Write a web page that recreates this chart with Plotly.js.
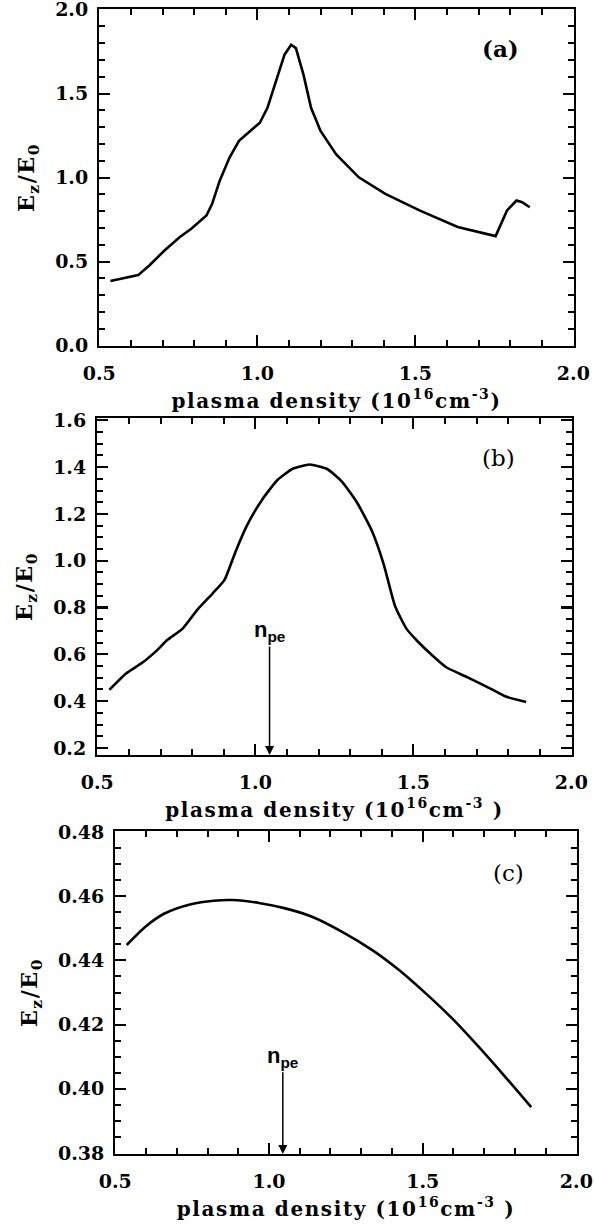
<!DOCTYPE html>
<html><head><meta charset="utf-8">
<script src="https://cdn.plot.ly/plotly-3.0.1.min.js"></script>
<style>
html,body{margin:0;padding:0;background:#fff;}
#chart{width:595px;height:1227px;}
text.xtitle,text.x2title,text.x3title,text.ytitle,text.y2title,text.y3title{letter-spacing:1.6px;}
</style>
</head><body><div id="chart"></div>
<script>
// Panel (a)
const densA = [0.535,0.623,0.659,0.707,0.755,0.791,0.839,0.857,0.881,0.912,0.942,0.972,1.008,1.032,1.056,1.086,1.107,1.122,1.146,1.170,1.200,1.249,1.321,1.405,1.513,1.634,1.754,1.790,1.820,1.838,1.862];
const fieldA = [0.385,0.420,0.479,0.568,0.647,0.696,0.775,0.844,0.982,1.120,1.219,1.268,1.327,1.416,1.554,1.732,1.791,1.771,1.613,1.416,1.278,1.140,1.002,0.903,0.805,0.706,0.652,0.805,0.864,0.854,0.824];
// Panel (b)
const densB = [0.538,0.590,0.644,0.686,0.722,0.770,0.818,0.866,0.902,0.938,0.974,1.022,1.070,1.118,1.172,1.226,1.274,1.322,1.370,1.406,1.442,1.478,1.514,1.562,1.604,1.670,1.742,1.790,1.857];
const fieldB = [0.448,0.517,0.566,0.614,0.662,0.710,0.793,0.862,0.917,1.041,1.152,1.262,1.345,1.393,1.411,1.393,1.338,1.248,1.124,0.986,0.807,0.710,0.655,0.593,0.545,0.503,0.455,0.421,0.396];
// Panel (c)
const densC = [0.537,0.598,0.660,0.746,0.820,0.881,0.967,1.053,1.140,1.238,1.336,1.423,1.509,1.595,1.681,1.767,1.853];
const fieldC = [0.4448,0.4505,0.4546,0.4575,0.4586,0.4588,0.4579,0.4562,0.4536,0.4489,0.4432,0.4370,0.4298,0.4220,0.4132,0.4039,0.3943];
// Marker n_pe
const npe = 1.045;
const panelLabels = ['(a)','(b)','(c)'];
const xTicks = [0.5,1.0,1.5,2.0];

const W = 595, H = 1227;
const serif = 'DejaVu Serif';
const tickFont = {family: serif, size: 19, weight: 'bold', color: '#000'};
const titleFont = {family: serif, size: 20, weight: 'bold', color: '#000'};
const yTitleFont = {family: serif, size: 22, weight: 'bold', color: '#000'};

function px2domX(a, b){ return [a / W, b / W]; }
function px2domY(top, bot){ return [(H - bot) / H, (H - top) / H]; }

function xAxis(dom, anchor, title){
  return {
    domain: dom, anchor: anchor, range: [0.499, 2.002],
    tickmode: 'array', tickvals: xTicks, ticktext: xTicks.map(v => v.toFixed(1)),
    ticks: 'inside', ticklen: 11, tickwidth: 2.2, tickcolor: '#000',
    minor: {dtick: 0.1, tick0: 0.5, ticks: 'inside', ticklen: 6, tickwidth: 2, tickcolor: '#000', showgrid: false},
    showline: true, linewidth: 2, linecolor: '#000', mirror: 'ticks',
    showgrid: false, zeroline: false, tickfont: tickFont, ticklabelstandoff: 9, ticklabeloverflow: 'allow',
    title: {text: title, font: titleFont, standoff: 11}, automargin: false, fixedrange: true
  };
}
function yAxis(dom, anchor, range, dtick, tick0, minorD, fmt){
  return {
    domain: dom, anchor: anchor, range: range,
    tickmode: 'linear', dtick: dtick, tick0: tick0, tickformat: fmt,
    ticks: 'inside', ticklen: 11, tickwidth: 2.2, tickcolor: '#000',
    minor: {dtick: minorD, tick0: tick0, ticks: 'inside', ticklen: 6, tickwidth: 2, tickcolor: '#000', showgrid: false},
    showline: true, linewidth: 2, linecolor: '#000', mirror: 'ticks',
    showgrid: false, zeroline: false, tickfont: tickFont, ticklabelstandoff: 5, ticklabeloverflow: 'allow',
    title: {text: 'E<sub>z</sub>/E<sub>0</sub>', font: yTitleFont, standoff: 14}, automargin: false, fixedrange: true
  };
}

const lineStyle = {color: '#000', width: 2.6};
const traces = [
  {x: densA, y: fieldA, xaxis: 'x', yaxis: 'y', mode: 'lines', line: lineStyle, hoverinfo: 'skip'},
  {x: densB, y: fieldB, xaxis: 'x2', yaxis: 'y2', mode: 'lines', line: Object.assign({shape: 'spline', smoothing: 0.5}, lineStyle), hoverinfo: 'skip'},
  {x: densC, y: fieldC, xaxis: 'x3', yaxis: 'y3', mode: 'lines', line: Object.assign({shape: 'spline', smoothing: 0.8}, lineStyle), hoverinfo: 'skip'}
];

const xt1 = 'plasma density (10<sup>16</sup>cm<sup>-3</sup>)';
const xt2 = 'plasma density (10<sup>16</sup>cm<sup>-3</sup> )';

const rangeB = [0.17, 1.61];
const rangeC = [0.3797, 0.4803];

const npeFont = {family: 'Liberation Sans', size: 22, weight: 'bold', color: '#000'};

const layout = {
  width: W, height: H, margin: {l: 0, r: 0, t: 0, b: 0},
  paper_bgcolor: '#fff', plot_bgcolor: '#fff', showlegend: false,
  xaxis: xAxis(px2domX(99, 574), 'y', xt1),
  yaxis: yAxis(px2domY(9, 346), 'x', [-0.002, 2.004], 0.5, 0, 0.1, '.1f'),
  xaxis2: xAxis(px2domX(97, 572), 'y2', xt2),
  yaxis2: yAxis(px2domY(418, 755), 'x2', rangeB, 0.2, 0.2, 0.05, '.1f'),
  xaxis3: xAxis(px2domX(115, 577), 'y3', xt2),
  yaxis3: yAxis(px2domY(831, 1154), 'x3', rangeC, 0.02, 0.38, 0.005, '.2f'),
  annotations: [
    {xref: 'x', yref: 'y', x: 1.77, y: 1.77, text: panelLabels[0], showarrow: false,
     font: {family: serif, size: 23, weight: 'bold', color: '#000'}},
    {xref: 'x2', yref: 'y2', x: 1.77, y: 1.44, text: panelLabels[1], showarrow: false,
     font: {family: serif, size: 23, color: '#000'}},
    {xref: 'x3', yref: 'y3', x: 1.78, y: 0.4673, text: panelLabels[2], showarrow: false,
     font: {family: serif, size: 23, color: '#000'}},
    {xref: 'x2', yref: 'y2', axref: 'x2', ayref: 'y2', x: npe, y: rangeB[0], ax: npe, ay: 0.70,
     text: 'n<sub>pe</sub>', showarrow: true, arrowhead: 2, arrowsize: 1.2, arrowwidth: 1.5, arrowcolor: '#000',
     standoff: 0, font: npeFont},
    {xref: 'x3', yref: 'y3', axref: 'x3', ayref: 'y3', x: npe, y: rangeC[0], ax: npe, ay: 0.4100,
     text: 'n<sub>pe</sub>', showarrow: true, arrowhead: 2, arrowsize: 1.2, arrowwidth: 1.5, arrowcolor: '#000',
     standoff: 0, font: npeFont}
  ]
};

Plotly.newPlot('chart', traces, layout, {staticPlot: true, displayModeBar: false});
</script>
</body></html>
